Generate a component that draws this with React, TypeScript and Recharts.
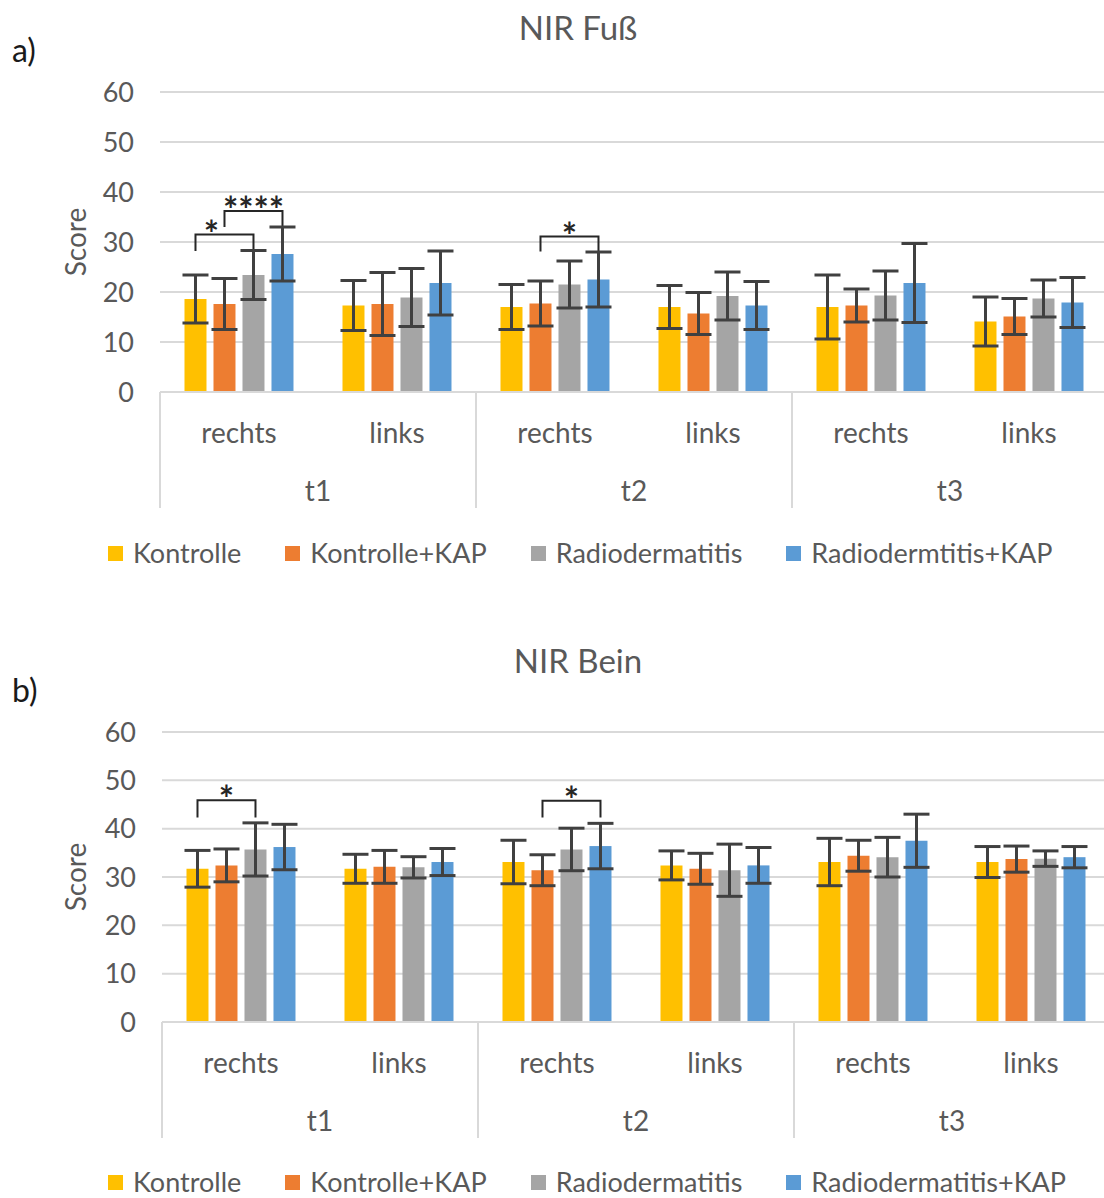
import { BarChart, Bar, XAxis, YAxis, CartesianGrid, ErrorBar } from "recharts";

const sides = ["rechts", "links", "rechts", "links", "rechts", "links"];
const times = ["t1", "t1", "t2", "t2", "t3", "t3"];

const namesFuss = ["Kontrolle", "Kontrolle+KAP", "Radiodermatitis", "Radiodermtitis+KAP"];
const namesBein = ["Kontrolle", "Kontrolle+KAP", "Radiodermatitis", "Radiodermatitis+KAP"];
const colors = ["#FFC000", "#ED7D31", "#A5A5A5", "#5B9BD5"];

// NIR Fuß
const fussKontrolle = [18.6, 17.3, 17.0, 17.0, 17.0, 14.1];
const fussKontrolleErr = [4.8, 5.0, 4.5, 4.3, 6.4, 4.9];
const fussKontrolleKap = [17.6, 17.6, 17.7, 15.7, 17.3, 15.1];
const fussKontrolleKapErr = [5.1, 6.3, 4.5, 4.2, 3.3, 3.6];
const fussRadio = [23.4, 18.9, 21.5, 19.2, 19.3, 18.7];
const fussRadioErr = [4.9, 5.8, 4.7, 4.8, 4.9, 3.7];
const fussRadioKap = [27.6, 21.8, 22.5, 17.3, 21.8, 17.9];
const fussRadioKapErr = [5.4, 6.4, 5.5, 4.8, 7.9, 5.0];

// NIR Bein
const beinKontrolle = [31.7, 31.7, 33.1, 32.4, 33.1, 33.1];
const beinKontrolleErr = [3.8, 3.0, 4.5, 3.0, 4.9, 3.2];
const beinKontrolleKap = [32.4, 32.1, 31.4, 31.7, 34.4, 33.7];
const beinKontrolleKapErr = [3.4, 3.4, 3.2, 3.2, 3.2, 2.7];
const beinRadio = [35.7, 32.0, 35.7, 31.4, 34.1, 33.8];
const beinRadioErr = [5.5, 2.2, 4.4, 5.4, 4.1, 1.6];
const beinRadioKap = [36.2, 33.1, 36.4, 32.4, 37.5, 34.1];
const beinRadioKapErr = [4.7, 2.8, 4.7, 3.7, 5.5, 2.2];

const yTicks = [0, 10, 20, 30, 40, 50, 60];

// significance brackets: category index, series from/to, bracket level, leg end, label
const bracketsFuss = [
  { cat: 0, from: 0, to: 2, level: 31.5, leg: 28.2, label: "*", dx: -13 },
  { cat: 0, from: 1, to: 3, level: 36.2, leg: 33.0, label: "****", dx: 0 },
  { cat: 2, from: 1, to: 3, level: 31.1, leg: 28.1, label: "*", dx: 0 },
];
const bracketsBein = [
  { cat: 0, from: 0, to: 2, level: 45.9, leg: 42.3, label: "*", dx: 0 },
  { cat: 2, from: 1, to: 3, level: 45.8, leg: 42.3, label: "*", dx: 0 },
];

const FONT = "Lato, 'Open Sans', sans-serif";
const TEXT = "#595959";
const BAR_GAP = 7;

function buildRows(values: number[][], errs: number[][]) {
  return sides.map((s, i) => {
    const row: any = { key: times[i] + " " + s };
    values.forEach((v, k) => {
      row["s" + k] = v[i];
      row["e" + k] = errs[k][i];
    });
    return row;
  });
}

const fussRows = buildRows(
  [fussKontrolle, fussKontrolleKap, fussRadio, fussRadioKap],
  [fussKontrolleErr, fussKontrolleKapErr, fussRadioErr, fussRadioKapErr]
);
const beinRows = buildRows(
  [beinKontrolle, beinKontrolleKap, beinRadio, beinRadioKap],
  [beinKontrolleErr, beinKontrolleKapErr, beinRadioErr, beinRadioKapErr]
);

function makeShape(seriesIdx: number, brackets: any[]) {
  return (props: any) => {
    const { x, y, width, height, fill, index, payload } = props;
    const base = y + height;
    const ppu = height / payload["s" + seriesIdx];
    const cx = (s: number) => x + width / 2 + (s - seriesIdx) * (width + BAR_GAP);
    return (
      <g>
        <rect x={x} y={y} width={width} height={height} fill={fill} />
        {brackets
          .filter((b) => b.cat === index)
          .map((b, j) => {
            const yl = base - b.level * ppu;
            const yg = base - b.leg * ppu;
            const x1 = cx(b.from);
            const x2 = cx(b.to);
            return (
              <g key={j}>
                <path d={`M${x1},${yg} V${yl} H${x2} V${yg}`} fill="none" stroke="#262626" strokeWidth={2} />
                <text
                  x={(x1 + x2) / 2 + b.dx}
                  y={yl + 12}
                  textAnchor="middle"
                  fontSize={36}
                  fontWeight="bold"
                  fontFamily={FONT}
                  fill="#262626"
                >
                  {b.label}
                </text>
              </g>
            );
          })}
      </g>
    );
  };
}

function CatTick(props: any) {
  const { x, y, index, payload, width, visibleTicksCount } = props;
  const band = payload && payload.offset ? payload.offset * 2 : width / visibleTicksCount;
  return (
    <g>
      <text x={x} y={y + 40} textAnchor="middle" dominantBaseline="central" fontSize={28} fontFamily={FONT} fill={TEXT}>
        {sides[index]}
      </text>
      {index % 2 === 0 && (
        <>
          <line x1={x - band / 2} x2={x - band / 2} y1={y} y2={y + 116} stroke="#D9D9D9" strokeWidth={2} />
          <text x={x + band / 2} y={y + 98} textAnchor="middle" dominantBaseline="central" fontSize={28} fontFamily={FONT} fill={TEXT}>
            {times[index]}
          </text>
        </>
      )}
      {index === sides.length - 1 && (
        <line x1={x + band / 2} x2={x + band / 2} y1={y} y2={y + 116} stroke="#D9D9D9" strokeWidth={2} />
      )}
    </g>
  );
}

function ScoreLabel(props: any) {
  const { viewBox } = props;
  const cx = viewBox.x + 75;
  const cy = viewBox.y + viewBox.height / 2;
  return (
    <text x={cx} y={cy} transform={`rotate(-90 ${cx} ${cy})`} textAnchor="middle" dominantBaseline="central" fontSize={28} fontFamily={FONT} fill={TEXT}>
      Score
    </text>
  );
}

function Chart({ rows, brackets, plotHeight, yWidth }: any) {
  const width = yWidth + 948;
  return (
    <BarChart
      width={width}
      height={92 + plotHeight + 116 + 12}
      data={rows}
      margin={{ top: 92, right: 0, bottom: 12, left: 0 }}
      barCategoryGap="15.5%"
      barGap={BAR_GAP}
    >
      <CartesianGrid vertical={false} stroke="#D9D9D9" strokeWidth={2} />
      <XAxis
        dataKey="key"
        height={116}
        tickSize={0}
        tickMargin={0}
        tickLine={false}
        interval={0}
        axisLine={{ stroke: "#D9D9D9", strokeWidth: 2 }}
        tick={<CatTick />}
      />
      <YAxis
        width={yWidth}
        domain={[0, 60]}
        ticks={yTicks}
        axisLine={false}
        tickLine={false}
        tickMargin={20}
        tick={{ fontSize: 27, fontFamily: FONT, fill: TEXT }}
        label={<ScoreLabel />}
      />
      {[0, 1, 2, 3].map((s) => (
        <Bar
          key={s}
          dataKey={"s" + s}
          fill={colors[s]}
          isAnimationActive={false}
          shape={s === 3 ? makeShape(3, brackets) : undefined}
        >
          <ErrorBar dataKey={"e" + s} width={13} strokeWidth={3} stroke="#404040" direction="y" />
        </Bar>
      ))}
    </BarChart>
  );
}

function LegendRow({ names, top }: any) {
  return (
    <div style={{ position: "absolute", left: 108, top: top - 13, height: 26, display: "flex", alignItems: "center", gap: 44 }}>
      {names.map((n: string, i: number) => (
        <div key={n} style={{ display: "flex", alignItems: "center" }}>
          <span style={{ width: 15, height: 15, background: colors[i], marginRight: 10, display: "inline-block" }} />
          <span style={{ fontSize: 27, lineHeight: "26px", fontFamily: FONT, color: TEXT, whiteSpace: "nowrap" }}>{n}</span>
        </div>
      ))}
    </div>
  );
}

const textStyle = (top: number, extra: any) => ({
  position: "absolute" as const,
  top,
  fontFamily: FONT,
  lineHeight: "40px",
  whiteSpace: "nowrap" as const,
  ...extra,
});

export default function App() {
  return (
    <div style={{ position: "absolute", left: 0, top: 0, width: 1104, height: 1198, overflow: "hidden", background: "#fff" }}>
      <div style={textStyle(7, { left: 478, width: 200, textAlign: "center", fontSize: 33, color: TEXT })}>NIR Fuß</div>
      <div style={textStyle(30, { left: 12, fontSize: 32, color: "#1a1a1a" })}>a)</div>
      <div style={{ position: "absolute", left: 0, top: 0 }}>
        <Chart rows={fussRows} brackets={bracketsFuss} plotHeight={300} yWidth={160} />
      </div>
      <LegendRow names={namesFuss} top={553} />

      <div style={textStyle(640, { left: 478, width: 200, textAlign: "center", fontSize: 33, color: TEXT })}>NIR Bein</div>
      <div style={textStyle(670, { left: 12, fontSize: 32, color: "#1a1a1a" })}>b)</div>
      <div style={{ position: "absolute", left: 0, top: 640 }}>
        <Chart rows={beinRows} brackets={bracketsBein} plotHeight={290} yWidth={162} />
      </div>
      <LegendRow names={namesBein} top={1182} />
    </div>
  );
}
